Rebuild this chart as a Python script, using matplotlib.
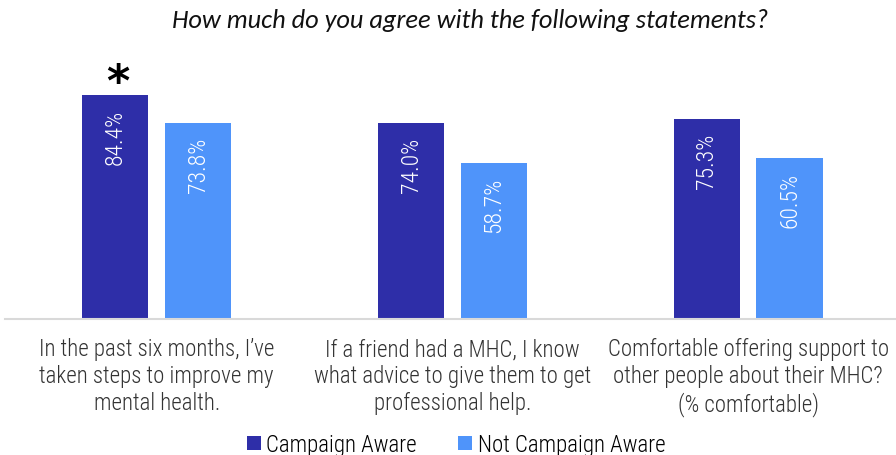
import matplotlib
matplotlib.use("Agg")
import matplotlib.pyplot as plt
import numpy as np

categories = [
    "In the past six months, I\u2019ve\ntaken steps to improve my\nmental health.",
    "If a friend had a MHC, I know\nwhat advice to give them to get\nprofessional help.",
    "Comfortable offering support to\nother people about their MHC?\n(% comfortable)",
]
aware = [84.4, 74.0, 75.3]
not_aware = [73.8, 58.7, 60.5]
series_names = ["Campaign Aware", "Not Campaign Aware"]

cond = ["Roboto Condensed", "DejaVu Sans"]
title_font = ["Carlito", "Lato", "DejaVu Sans"]

dark = "#2E2EA8"
light = "#4F94FA"

fig = plt.figure(figsize=(8.96, 4.56), dpi=100)
ax = fig.add_axes([5 / 896, 136 / 456, 891 / 896, 280 / 456])

x = np.arange(len(categories))
w = 0.224
off = 0.14
b1 = ax.bar(x - off, aware, w, color=dark, label=series_names[0])
b2 = ax.bar(x + off, not_aware, w, color=light, label=series_names[1])

for bars, vals in ((b1, aware), (b2, not_aware)):
    for rect, v in zip(bars, vals):
        ax.text(rect.get_x() + rect.get_width() / 2, v - 5.2, f"{v:.1f}%",
                rotation=90, ha="center", va="top", color="white",
                fontsize=17, family=cond, fontweight=300)

# significance marker over the first bar
ax.text(x[0] - off + 0.008, aware[0] + 4.6, "*", ha="center", va="center",
        fontsize=32, fontweight="bold", color="black", family="DejaVu Sans")

ax.set_xlim(-0.513, 2.5)
ax.set_ylim(0, 105.5)
ax.set_yticks([])
ax.set_xticks(x)
ax.set_xticklabels(categories, family=cond, fontweight=300, fontsize=16.5,
                   color="#333333", linespacing=1.22)
ax.tick_params(axis="x", length=0, pad=13)
for s in ("top", "right", "left"):
    ax.spines[s].set_visible(False)
ax.spines["bottom"].set_color("#D9D9D9")
ax.spines["bottom"].set_linewidth(1.5)

fig.text(0.525, 0.955, "How much do you agree with the following statements?",
         ha="center", va="center", fontsize=19, style="italic",
         family=title_font, color="#111111")

fig.legend(handles=[b1, b2], loc="lower center", bbox_to_anchor=(0.509, -0.048),
           ncol=2, frameon=False, handlelength=0.6, handleheight=0.6,
           handletextpad=0.25, columnspacing=1.8,
           prop={"family": cond, "weight": 300, "size": 16.5})

fig.savefig("out.png", dpi=100)
